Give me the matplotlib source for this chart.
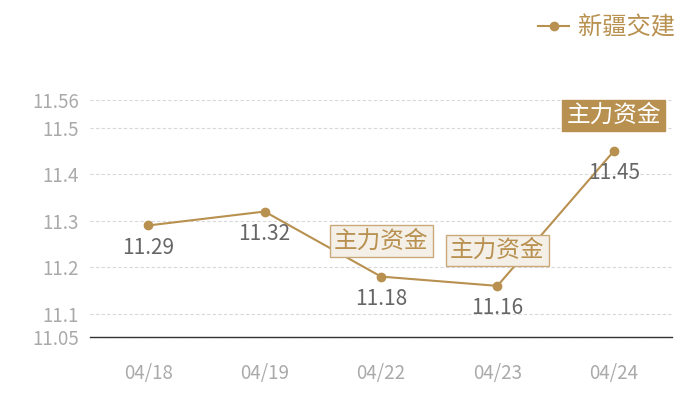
import matplotlib
matplotlib.use("Agg")
import matplotlib.pyplot as plt
from matplotlib.lines import Line2D

plt.rcParams['font.family'] = ['Noto Sans CJK SC', 'DejaVu Sans']

dates = ["04/18", "04/19", "04/22", "04/23", "04/24"]
prices = [11.29, 11.32, 11.18, 11.16, 11.45]
y_ticks = [11.05, 11.1, 11.2, 11.3, 11.4, 11.5, 11.56]
series_name = "新疆交建"
callout_text = "主力资金"
callout_idx = [2, 3, 4]
highlight_idx = 4

gold = "#b8904f"
tick_grey = "#aaaaaa"
label_grey = "#666666"

fig = plt.figure(figsize=(7, 4), dpi=100)
ax = fig.add_axes([90 / 700, 63 / 400, 582 / 700, 237 / 400])

x = list(range(len(dates)))
ax.plot(x, prices, color=gold, lw=1.5, marker="o", ms=6, zorder=3)

# value labels under each point
for i, v in enumerate(prices):
    ax.annotate(f"{v:.2f}", (i, v), xytext=(0, -16), textcoords="offset points",
                ha="center", va="center", fontsize=15, color=label_grey, zorder=4)

# callout boxes above flagged points
for i in callout_idx:
    if i == highlight_idx:
        fc, ec, tc = gold, gold, "white"
    else:
        fc, ec, tc = "#f4efe7", "#c9a97a", gold
    ax.annotate(callout_text, (i, prices[i]), xytext=(0, 25.5), textcoords="offset points",
                ha="center", va="center", fontsize=17, color=tc, zorder=5,
                bbox=dict(boxstyle="square,pad=0.18", fc=fc, ec=ec, lw=1))

ax.set_xlim(-0.5, len(dates) - 0.5)
ax.set_ylim(y_ticks[0], y_ticks[-1])
ax.set_xticks(x)
ax.set_xticklabels(dates)
ax.set_yticks(y_ticks)
ax.set_yticklabels([f"{t:g}" for t in y_ticks])
ax.tick_params(axis="both", length=0, labelsize=13.5, labelcolor=tick_grey)
ax.tick_params(axis="x", pad=19)
ax.tick_params(axis="y", pad=8)
ax.grid(axis="y", color="#d8d8d8", lw=0.8, ls=(0, (3, 2)))
ax.set_axisbelow(True)
for s in ["top", "right", "left"]:
    ax.spines[s].set_visible(False)
ax.spines["bottom"].set_color("#333333")
ax.spines["bottom"].set_linewidth(1)

handle = Line2D([], [], color=gold, lw=1.5, marker="o", ms=6)
fig.legend([handle], [series_name], loc="upper right", bbox_to_anchor=(0.985, 1.0),
           frameon=False, fontsize=17.5, labelcolor=gold, handlelength=1.3,
           handletextpad=0.35, borderaxespad=0.2)

fig.savefig("out.png", dpi=100)
